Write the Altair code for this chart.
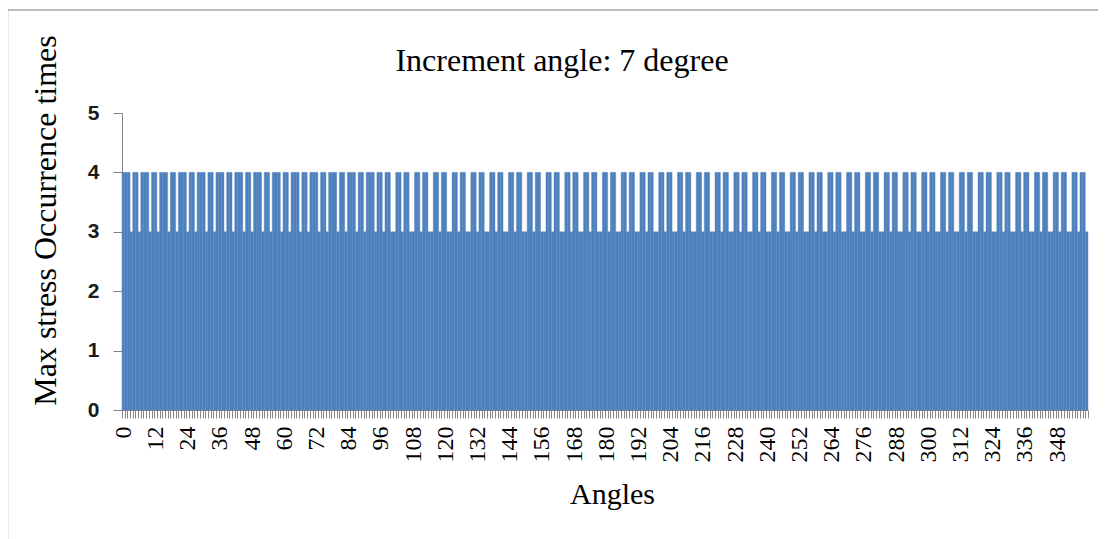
import altair as alt
import pandas as pd

# Categories: angle in degrees, one bar per degree
angles = list(range(0, 360))

# Max stress occurrence times per angle, groups of 7 angles
occurrence_digits = (
    "4443443 4443443 4443443 4443443 4443443 4443443 4443443 "   # 0-48
    "4443443 4443443 4443443 4443443 4443443 4443443 4443443 "   # 49-97
    "4433443 4433443 4433443 4433443 4433443 4433443 4433443 "   # 98-146
    "4433443 4433443 4433443 4433443 4433443 4433443 4433443 "   # 147-195
    "4433443 4433443 4433443 4433443 4433443 4433443 4433443 "   # 196-244
    "4433443 4433443 4433443 4433443 4433443 4433443 4433443 "   # 245-293
    "4433443 4433443 4433443 4433443 4433443 4433443 4433443 "   # 294-342
    "4433443 4433443 443"                                        # 343-359
)
occurrences = [int(c) for c in occurrence_digits if c.isdigit()]

title_text = "Increment angle: 7 degree"
x_title = "Angles"
y_title = "Max stress Occurrence times"
y_ticks = [0, 1, 2, 3, 4, 5]

df = pd.DataFrame({"angle": angles, "occurrence": occurrences})

bars = alt.Chart(df).mark_bar(color="#4F81BD", stroke="#4F81BD", strokeWidth=0.4).encode(
    x=alt.X(
        "angle:O",
        scale=alt.Scale(domain=angles, paddingInner=0, paddingOuter=0),
        axis=alt.Axis(
            title=x_title,
            labelExpr="datum.value % 12 == 0 ? datum.label : ''",
            labelAngle=270,
            labelFont="Liberation Serif",
            labelFontSize=24,
            labelColor="black",
            labelPadding=8,
            labelOverlap=False,
            tickSize=8,
            tickColor="#868686",
            domainColor="#868686",
            tickBand="extent",
            titleFont="Liberation Serif",
            titleFontSize=30,
            titleFontWeight="normal",
            titleColor="black",
            titleBaseline="alphabetic",
            titleX=490,
            titleY=93,
        ),
    ),
    y=alt.Y(
        "occurrence:Q",
        scale=alt.Scale(domain=[0, 5], nice=False),
        axis=alt.Axis(
            values=y_ticks,
            title=y_title,
            grid=False,
            labelFont="Liberation Sans",
            labelFontWeight="bold",
            labelFontSize=21,
            labelColor="#1a1a1a",
            labelPadding=14,
            tickSize=9,
            tickColor="#868686",
            domainColor="#868686",
            titleFont="Liberation Serif",
            titleFontSize=32,
            titleFontWeight="normal",
            titleColor="black",
            titleBaseline="alphabetic",
            titleAngle=270,
            titleX=-67,
            titleY=107,
        ),
    ),
)

frame = alt.Chart(alt.Data(values=[{"f": 1}])).mark_rect(
    fill="white", fillOpacity=0, stroke="#a6a6a6", strokeWidth=1.5
).encode(
    x=alt.value(-114.5), x2=alt.value(982.5), y=alt.value(-103), y2=alt.value(440)
)

title = alt.Chart(alt.Data(values=[{"f": 1}])).mark_text(
    font="Liberation Serif", fontSize=32, color="black", align="center", baseline="alphabetic"
).encode(
    x=alt.value(440), y=alt.value(-42), text=alt.value(title_text)
)

chart = alt.layer(frame, bars, title).properties(
    width=966,
    height=297,
    autosize=alt.AutoSizeParams(type="none"),
    padding={"left": 114, "top": 105, "right": 10, "bottom": 140},
    background="white",
).configure_view(strokeWidth=0, stroke="transparent")

chart.save("out.html", embed_options={"renderer": "svg", "actions": False})
